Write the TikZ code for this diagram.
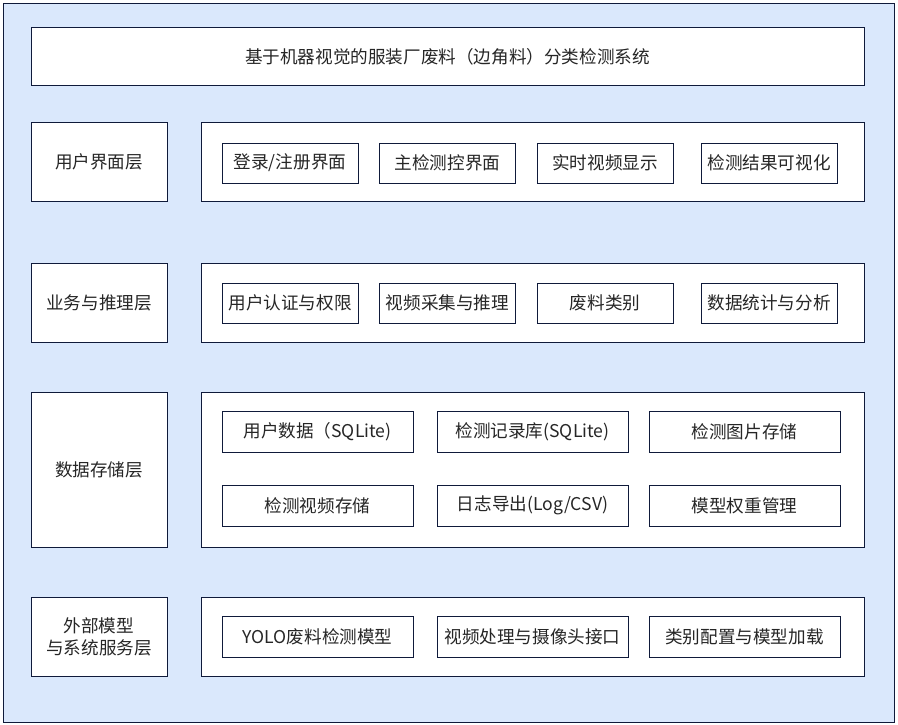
\documentclass[tikz,border=0pt]{standalone}
\usepackage{fontspec}
\setmainfont{Noto Sans CJK SC}
\definecolor{bgblue}{HTML}{DAE8FC}
\definecolor{navy}{HTML}{0F1A3A}
\begin{document}
\begin{tikzpicture}[x=1pt,y=-1pt,
  box/.style={draw=navy,fill=white,line width=1pt,inner sep=0pt,align=center,
    font=\fontsize{17.6}{22}\selectfont,text=black!85},
  layerbox/.style={box,minimum width=136pt},
  contentbox/.style={box,minimum width=663pt},
  itemA/.style={box,minimum width=136pt,minimum height=40pt},
  itemB/.style={box,minimum width=191pt,minimum height=41pt}]
\useasboundingbox (0,0) rectangle (898,725);
\draw[navy,fill=bgblue,line width=1pt] (3,4) rectangle (894,722);
\node[box,minimum width=833pt,minimum height=58pt] (title) at (447.5,57) {\raisebox{-1pt}{基于机器视觉的服装厂废料（边角料）分类检测系统}};
% row 1
\node[layerbox,minimum height=78pt] (l1) at (99,162) {\raisebox{-1pt}{用户界面层}};
\node[contentbox,minimum height=78pt] (c1) at (532.5,162) {};
\node[itemA] (a1) at (290,163) {\raisebox{-1pt}{登录/注册界面}};
\node[itemA] (a2) at (447.5,163) {\raisebox{-1pt}{主检测控界面}};
\node[itemA] (a3) at (605,163) {\raisebox{-1pt}{实时视频显示}};
\node[itemA] (a4) at (769,163) {\raisebox{-1pt}{检测结果可视化}};
% row 2
\node[layerbox,minimum height=79pt] (l2) at (99,302.5) {\raisebox{-1pt}{业务与推理层}};
\node[contentbox,minimum height=79pt] (c2) at (532.5,302.5) {};
\node[itemA] (b1) at (290,303) {\raisebox{-1pt}{用户认证与权限}};
\node[itemA] (b2) at (447.5,303) {\raisebox{-1pt}{视频采集与推理}};
\node[itemA] (b3) at (605,303) {\raisebox{-1pt}{废料类别}};
\node[itemA] (b4) at (769,303) {\raisebox{-1pt}{数据统计与分析}};
% row 3
\node[layerbox,minimum height=155pt] (l3) at (99,469.5) {\raisebox{-1pt}{数据存储层}};
\node[contentbox,minimum height=155pt] (c3) at (532.5,469.5) {};
\node[itemB] (d1) at (317.5,431.5) {\raisebox{-1pt}{用户数据（SQLite)}};
\node[itemB] (d2) at (532.5,431.5) {\raisebox{-1pt}{检测记录库(SQLite)}};
\node[itemB] (d3) at (744.5,431.5) {\raisebox{-1pt}{检测图片存储}};
\node[itemB] (d4) at (317.5,505.5) {\raisebox{-1pt}{检测视频存储}};
\node[itemB] (d5) at (532.5,505.5) {\raisebox{-1pt}{日志导出(Log/CSV)}};
\node[itemB] (d6) at (744.5,505.5) {\raisebox{-1pt}{模型权重管理}};
% row 4
\node[layerbox,minimum height=79pt] (l4) at (99,636.5) {外部模型\\与系统服务层};
\node[contentbox,minimum height=79pt] (c4) at (532.5,636.5) {};
\node[itemB] (e1) at (317.5,636.5) {\raisebox{-1pt}{YOLO废料检测模型}};
\node[itemB] (e2) at (532.5,636.5) {\raisebox{-1pt}{视频处理与摄像头接口}};
\node[itemB] (e3) at (744.5,636.5) {\raisebox{-1pt}{类别配置与模型加载}};
\end{tikzpicture}
\end{document}
